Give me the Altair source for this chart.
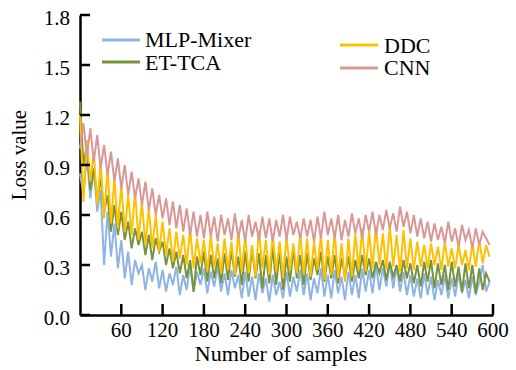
import altair as alt
import pandas as pd

step = 5
mlp_mixer = [
    0.85, 0.72, 0.95, 0.70, 0.88, 0.62,
    0.75, 0.30, 0.62, 0.35, 0.55, 0.28,
    0.45, 0.22, 0.38, 0.18, 0.33, 0.25,
    0.30, 0.15, 0.28, 0.20, 0.32, 0.16,
    0.27, 0.14, 0.25, 0.18, 0.29, 0.12,
    0.24, 0.15, 0.30, 0.14, 0.26, 0.18,
    0.28, 0.13, 0.26, 0.17, 0.29, 0.14,
    0.25, 0.12, 0.27, 0.16, 0.24, 0.10,
    0.26, 0.11, 0.23, 0.09, 0.25, 0.13,
    0.22, 0.08, 0.24, 0.12, 0.20, 0.10,
    0.26, 0.11, 0.23, 0.14, 0.27, 0.12,
    0.25, 0.09, 0.22, 0.13, 0.28, 0.11,
    0.24, 0.10, 0.27, 0.13, 0.23, 0.09,
    0.26, 0.12, 0.24, 0.10, 0.28, 0.14,
    0.27, 0.13, 0.30, 0.15, 0.28, 0.17,
    0.31, 0.16, 0.29, 0.14, 0.26, 0.12,
    0.24, 0.11, 0.22, 0.10, 0.25, 0.12,
    0.23, 0.09, 0.21, 0.12, 0.24, 0.10,
    0.22, 0.11, 0.25, 0.13, 0.21, 0.10,
    0.23, 0.12, 0.20, 0.30, 0.14, 0.20,
]
et_tca = [
    1.28, 0.90, 1.02, 0.75, 0.88, 0.70,
    0.82, 0.62, 0.72, 0.50, 0.66, 0.48,
    0.62, 0.45, 0.56, 0.40, 0.52, 0.42,
    0.50, 0.36, 0.48, 0.33, 0.46, 0.38,
    0.44, 0.30, 0.40, 0.28, 0.38, 0.25,
    0.36, 0.22, 0.33, 0.14, 0.35, 0.24,
    0.38, 0.20, 0.36, 0.22, 0.34, 0.19,
    0.37, 0.21, 0.39, 0.23, 0.35, 0.18,
    0.38, 0.20, 0.40, 0.22, 0.37, 0.16,
    0.36, 0.19, 0.41, 0.18, 0.38, 0.15,
    0.35, 0.20, 0.39, 0.22, 0.36, 0.18,
    0.37, 0.21, 0.34, 0.24, 0.38, 0.20,
    0.35, 0.22, 0.36, 0.19, 0.34, 0.23,
    0.35, 0.20, 0.33, 0.22, 0.36, 0.24,
    0.34, 0.22, 0.32, 0.25, 0.33, 0.21,
    0.32, 0.23, 0.30, 0.20, 0.33, 0.22,
    0.31, 0.19, 0.30, 0.17, 0.32, 0.20,
    0.33, 0.16, 0.31, 0.18, 0.30, 0.15,
    0.32, 0.17, 0.29, 0.14, 0.31, 0.16,
    0.30, 0.13, 0.28, 0.15, 0.25, 0.20,
]
ddc = [
    1.20, 0.68, 1.05, 0.80, 0.98, 0.66,
    0.92, 0.58, 0.88, 0.55, 0.82, 0.52,
    0.78, 0.50, 0.72, 0.48, 0.74, 0.45,
    0.68, 0.42, 0.64, 0.40, 0.60, 0.38,
    0.56, 0.36, 0.52, 0.32, 0.50, 0.34,
    0.48, 0.30, 0.52, 0.28, 0.46, 0.31,
    0.45, 0.26, 0.48, 0.28, 0.43, 0.25,
    0.46, 0.27, 0.44, 0.24, 0.50, 0.26,
    0.47, 0.25, 0.42, 0.23, 0.51, 0.28,
    0.45, 0.24, 0.48, 0.26, 0.44, 0.22,
    0.47, 0.27, 0.43, 0.25, 0.49, 0.24,
    0.46, 0.23, 0.44, 0.27, 0.48, 0.21,
    0.45, 0.24, 0.50, 0.22, 0.43, 0.20,
    0.46, 0.23, 0.49, 0.27, 0.52, 0.26,
    0.50, 0.28, 0.53, 0.30, 0.49, 0.27,
    0.54, 0.29, 0.48, 0.26, 0.51, 0.28,
    0.46, 0.27, 0.44, 0.29, 0.42, 0.28,
    0.43, 0.30, 0.41, 0.27, 0.44, 0.29,
    0.40, 0.28, 0.42, 0.30, 0.39, 0.27,
    0.43, 0.29, 0.45, 0.31, 0.42, 0.35,
]
cnn = [
    1.00, 1.15, 0.95, 1.12, 0.92, 1.08,
    0.88, 1.02, 0.84, 0.98, 0.80, 0.94,
    0.76, 0.90, 0.72, 0.86, 0.70, 0.82,
    0.66, 0.80, 0.63, 0.76, 0.60, 0.72,
    0.58, 0.70, 0.54, 0.68, 0.52, 0.66,
    0.50, 0.64, 0.48, 0.62, 0.47, 0.60,
    0.46, 0.62, 0.47, 0.59, 0.44, 0.60,
    0.48, 0.58, 0.45, 0.61, 0.46, 0.57,
    0.44, 0.60, 0.47, 0.56, 0.45, 0.59,
    0.46, 0.58, 0.44, 0.57, 0.47, 0.60,
    0.45, 0.59, 0.48, 0.56, 0.46, 0.58,
    0.47, 0.57, 0.44, 0.59, 0.46, 0.62,
    0.48, 0.58, 0.46, 0.60, 0.45, 0.57,
    0.47, 0.61, 0.49, 0.58, 0.46, 0.60,
    0.50, 0.62, 0.48, 0.60, 0.51, 0.63,
    0.52, 0.61, 0.50, 0.65, 0.53, 0.62,
    0.49, 0.60, 0.47, 0.58, 0.46, 0.56,
    0.44, 0.55, 0.45, 0.53, 0.43, 0.56,
    0.44, 0.52, 0.41, 0.54, 0.45, 0.51,
    0.40, 0.52, 0.42, 0.50, 0.46, 0.42,
]
x_ticks = [60, 120, 180, 240, 300, 360, 420, 480, 540, 600]
y_ticks = [0.0, 0.3, 0.6, 0.9, 1.2, 1.5, 1.8]

names = ["MLP-Mixer", "ET-TCA", "DDC", "CNN"]
colors = ["#8EB4E3", "#77933C", "#FFC000", "#D99795"]
series = [mlp_mixer, et_tca, ddc, cnn]

FONT = "Liberation Serif"

xs = alt.Scale(domain=[0, 600], nice=False)
ys = alt.Scale(domain=[0, 1.8], nice=False)

x_axis = alt.Axis(values=x_ticks, ticks=False, labels=False, grid=False, title=None,
                  domainColor="black", domainWidth=2.5)
y_axis = alt.Axis(values=y_ticks, ticks=False, labels=False, grid=False, title=None,
                  domainColor="black", domainWidth=2.5)

layers = []
for k, (name, vals, col) in enumerate(zip(names, series, colors)):
    d = pd.DataFrame({"x": [i * step for i in range(len(vals))], "y": vals, "model": name})
    enc = dict(x=alt.X("x:Q", scale=xs), y=alt.Y("y:Q", scale=ys), order=alt.Order("x:Q"))
    if k == 0:
        enc = dict(x=alt.X("x:Q", scale=xs, axis=x_axis), y=alt.Y("y:Q", scale=ys, axis=y_axis),
                   order=alt.Order("x:Q"))
    layers.append(alt.Chart(d).mark_line(strokeWidth=2, color=col).encode(**enc))

# inward tick marks
xt = alt.Chart(pd.DataFrame({"t": x_ticks})).mark_rule(color="black", strokeWidth=2.5).encode(
    x=alt.X("t:Q", scale=xs), y=alt.value(300), y2=alt.value(289))
yt = alt.Chart(pd.DataFrame({"t": y_ticks})).mark_rule(color="black", strokeWidth=2.5).encode(
    y=alt.Y("t:Q", scale=ys), x=alt.value(0), x2=alt.value(10))

# tick labels
xl = alt.Chart(pd.DataFrame({"t": x_ticks})).mark_text(
    font=FONT, fontSize=21, color="black", align="center", baseline="alphabetic").encode(
    x=alt.X("t:Q", scale=xs), y=alt.value(322), text=alt.Text("t:Q"))
yl = alt.Chart(pd.DataFrame({"t": y_ticks})).mark_text(
    font=FONT, fontSize=21, color="black", align="right", baseline="alphabetic", dy=10).encode(
    y=alt.Y("t:Q", scale=ys), x=alt.value(-10), text=alt.Text("t:Q", format=".1f"))

# axis titles
xtitle = alt.Chart(pd.DataFrame({"s": ["Number of samples"]})).mark_text(
    font=FONT, fontSize=22, color="black", align="center", baseline="alphabetic").encode(
    x=alt.value(201), y=alt.value(346), text="s:N")
ytitle = alt.Chart(pd.DataFrame({"s": ["Loss value"]})).mark_text(
    font=FONT, fontSize=21, color="black", align="center", baseline="alphabetic", angle=270).encode(
    x=alt.value(-54), y=alt.value(140), text="s:N")

# legend (two groups)
leg_pos = {  # name: (line x0, line x1, line y, text x, text baseline y)
    "MLP-Mixer": (22, 60, 25, 65, 32),
    "ET-TCA": (22, 60, 47, 65, 55),
    "DDC": (260, 298, 30, 304, 38),
    "CNN": (260, 298, 53, 304, 60),
}
leg = []
for name, col in zip(names, colors):
    x0, x1, ly, tx, ty = leg_pos[name]
    lab = pd.DataFrame({"s": [name]})
    leg.append(alt.Chart(lab).mark_rule(color=col, strokeWidth=3).encode(
        x=alt.value(x0), x2=alt.value(x1), y=alt.value(ly)))
    leg.append(alt.Chart(lab).mark_text(font=FONT, fontSize=22, color="black", align="left",
                                        baseline="alphabetic").encode(
        x=alt.value(tx), y=alt.value(ty), text="s:N"))

chart = alt.layer(*layers, xt, yt, xl, yl, xtitle, ytitle, *leg).properties(
    width=413, height=300,
    autosize=alt.AutoSizeParams(type="none"),
    padding={"left": 80, "top": 15, "right": 23, "bottom": 55},
).configure_view(stroke=None)

chart.save("out.html", embed_options={"renderer": "svg", "actions": False})
